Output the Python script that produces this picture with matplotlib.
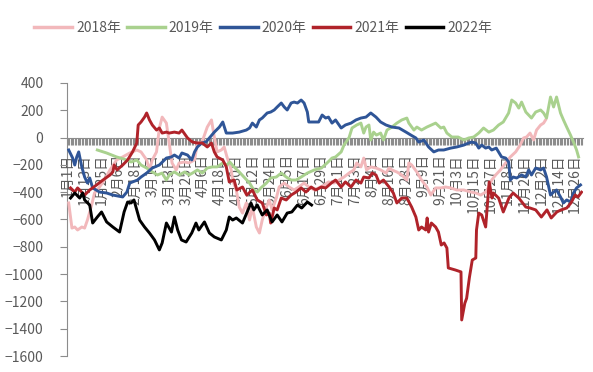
import matplotlib
matplotlib.use("Agg")
import matplotlib.pyplot as plt
from matplotlib.ticker import FixedLocator, MultipleLocator

plt.rcParams['font.family'] = ['Noto Sans CJK SC', 'DejaVu Sans']
plt.rcParams['axes.unicode_minus'] = True

# ---- data (x = day of year, 0 = 1月1日) ----
series_names = ["2018年", "2019年", "2020年", "2021年", "2022年"]
colors = ["#F2B8BB", "#A9D18E", "#2F5597", "#B0232A", "#000000"]

d2018 = [0.7, 3, 5, 7, 10, 12, 14, 17, 19, 22.6, 26, 30, 34.7, 39, 44, 49, 52, 56, 58, 60, 63, 65, 67, 70, 72, 74, 77, 79, 83, 86, 90, 92, 95, 97, 99, 102, 104, 106, 109, 111, 113, 116, 117, 119.6, 121.7, 124, 126.7, 129, 131, 133.8, 136, 138, 141, 143, 145, 148, 150, 153.6, 157, 160.6, 164, 167.7, 171, 175, 178, 182, 185, 189, 192.5, 196, 199.6, 203, 205, 208, 210, 212, 215, 218.7, 222, 225.8, 228, 230, 233.5, 237, 240.6, 242, 244, 247.7, 251, 254.8, 257.6, 261, 264.7, 268, 271.8, 276, 281, 286, 289.5, 293, 296.5, 298.7, 300.8, 303.6, 307, 310.7, 314, 317.8, 321, 323.4, 325.5, 328, 330.5, 332.6, 335.5, 337.6, 339]
v2018 = [-479, -663, -655, -677, -655, -663, -604, -494, -406, -362, -311, -237, -164, -142, -113, -91, -105, -164, -237, -164, -105, 70, 150, 106, -40, -186, -237, -186, -179, -186, -164, -40, -40, 18, 77, 129, 4, -105, -91, -69, -142, -237, -311, -384, -509, -553, -479, -604, -509, -655, -699, -604, -509, -457, -530, -443, -362, -333, -362, -384, -362, -333, -362, -384, -369, -347, -325, -333, -311, -289, -260, -237, -186, -215, -150, -237, -215, -223, -237, -260, -223, -237, -252, -274, -311, -186, -201, -252, -311, -362, -421, -369, -369, -362, -369, -384, -384, -399, -406, -421, -399, -362, -311, -274, -237, -186, -142, -105, -55, -3, 4, 33, -18, 55, 92, 106, 129]

d2019 = [21, 27.6, 34.7, 42, 45, 49, 52, 56, 60, 63.7, 67, 70, 72, 75.7, 79, 83, 86, 88.5, 92, 95.5, 99, 102.6, 106, 110, 113, 115, 118, 121.7, 125, 129, 132, 134.5, 137, 141, 144, 148, 151.5, 155, 158.5, 162, 165.6, 170, 175, 180, 184, 187.5, 190, 194, 196, 199.6, 201.7, 205, 208, 210, 211.6, 213.7, 215, 217, 219, 222, 224, 226.5, 230, 233.5, 237, 240.6, 242, 245.6, 247.7, 251, 254.8, 258, 261, 264.7, 266.8, 269, 272.5, 277, 281, 284.5, 288, 291.6, 295, 298.7, 302, 305.7, 309, 312.8, 315, 317.8, 320, 322, 325, 327, 329, 332, 335.5, 337.6, 339.7, 342.5, 344.7, 346.8, 349.6, 351.7, 354, 356.7, 358.8, 361, 362.4]
v2019 = [-91, -113, -142, -164, -179, -164, -201, -223, -252, -274, -260, -311, -274, -252, -274, -252, -274, -260, -237, -260, -223, -215, -215, -186, -201, -179, -215, -252, -289, -333, -384, -399, -369, -333, -296, -289, -260, -289, -311, -311, -289, -260, -237, -223, -186, -150, -142, -105, -55, 0, 70, 92, 106, 33, 77, 92, -18, 40, 18, 33, -18, 55, 77, 106, 129, 143, 106, 55, 77, 55, 77, 92, 106, 70, 77, 33, 4, 4, -18, -3, 4, 33, 70, 40, 55, 92, 114, 180, 275, 253, 216, 260, 187, 165, 143, 187, 202, 180, 143, 297, 224, 297, 180, 129, 77, 18, -33, -91, -142]

d2020 = [0.7, 3.5, 5, 6.4, 7.8, 10, 12, 14, 15.6, 17.7, 22.6, 27.6, 32, 39, 42, 44, 46, 49.5, 52, 56, 60, 65, 70, 73.6, 75.7, 79, 81, 85, 88, 90, 92, 95, 98, 100.5, 104, 107.6, 110, 112.5, 117, 121.7, 126.7, 129, 131, 133.8, 136, 138, 141.5, 144, 146.5, 148.6, 151.5, 153.6, 155.7, 158.5, 160.6, 163, 165.6, 167.7, 170, 171, 175, 178, 180.5, 183, 185, 187.5, 190, 194, 197, 201, 204.5, 208, 211.6, 215, 218.7, 222, 225.8, 230, 235, 240, 243.5, 247, 249, 252.7, 256, 259.7, 263, 266.8, 271.8, 276, 281, 284.5, 286.6, 289.5, 291.6, 293.7, 296.5, 298.7, 300.8, 304, 307.8, 310.7, 312.8, 314, 316, 318.5, 322, 325, 327, 329, 332, 335.5, 337.6, 339.7, 342.5, 344.7, 346.8, 349.6, 351.7, 354, 356.7, 358.8, 361, 363.8]
v2020 = [-91, -150, -201, -142, -105, -215, -289, -333, -296, -369, -399, -406, -421, -435, -399, -333, -325, -311, -289, -260, -223, -201, -150, -142, -128, -150, -113, -128, -164, -105, -69, -40, -33, -3, 40, 77, 114, 33, 33, 40, 55, 70, 106, 77, 129, 143, 180, 187, 202, 224, 253, 224, 202, 253, 260, 253, 275, 253, 187, 114, 114, 114, 165, 143, 150, 106, 129, 70, 92, 106, 129, 143, 150, 180, 150, 114, 92, 77, 70, 40, 18, -3, -33, -18, -69, -105, -91, -91, -77, -69, -55, -40, -33, -40, -77, -55, -77, -69, -91, -77, -142, -150, -179, -311, -289, -296, -274, -289, -237, -274, -223, -237, -223, -289, -421, -399, -384, -435, -479, -457, -472, -406, -369, -347]

d2021 = [2, 5, 7, 12, 15.6, 20.5, 25, 30, 32, 33, 35, 39, 42.5, 46, 49, 50, 52, 54.5, 56, 58, 60, 63, 65, 67, 70, 72, 75.7, 79, 81, 85, 88.5, 92, 95.5, 99, 102, 104, 106, 110, 112.5, 114.6, 118, 120, 124, 127, 131, 134.5, 138, 141, 143, 144, 146.5, 148.6, 151.5, 155, 158.5, 162, 165.6, 169, 172.7, 176, 180, 183, 187, 190, 194, 197, 201, 204.5, 208, 210, 213.7, 216, 218.7, 221, 224, 228, 231, 233.5, 237, 240.6, 244, 247, 249, 251, 254, 255, 256, 258, 261, 263, 265, 267, 269, 270, 275, 279, 279.5, 281.7, 283, 285, 287, 289.5, 290, 291.6, 293.7, 296.5, 298, 299, 301, 302, 305.7, 309, 313, 316, 320, 325, 328, 332, 336, 340, 343, 347, 350, 354, 357, 360, 362, 364.5]
v2021 = [-369, -399, -369, -421, -384, -347, -311, -274, -252, -201, -237, -201, -164, -105, -40, 92, 114, 150, 180, 129, 92, 55, 70, 33, 40, 33, 40, 33, 55, -3, -33, -40, -40, -69, -40, -105, -142, -164, -215, -325, -311, -384, -362, -421, -384, -457, -479, -567, -553, -626, -516, -530, -443, -457, -421, -399, -369, -399, -362, -384, -362, -369, -333, -311, -362, -325, -362, -311, -333, -289, -296, -260, -274, -333, -311, -362, -406, -479, -443, -443, -509, -582, -677, -655, -677, -589, -692, -626, -655, -692, -787, -772, -809, -955, -970, -984, -1336, -1214, -1177, -1023, -897, -882, -677, -553, -567, -655, -457, -325, -443, -406, -443, -545, -443, -406, -443, -509, -516, -530, -582, -530, -589, -545, -530, -516, -479, -421, -435, -400]

d2022 = [2, 5, 8.5, 10.6, 12, 15.6, 17.7, 21, 24, 27.6, 32, 36.8, 40, 42.5, 45, 47, 51, 54.5, 58, 61.6, 65, 67, 70, 73.6, 75.7, 78, 80.7, 84, 88, 91, 93, 97, 100.5, 104, 109, 112.5, 114.6, 117, 119.6, 124, 127, 130, 132, 134.5, 138, 141.5, 145, 148.6, 152, 155.7, 159, 163, 166, 170, 173]
v2022 = [-443, -406, -443, -406, -457, -494, -626, -582, -545, -618, -655, -692, -545, -472, -479, -457, -604, -655, -699, -750, -823, -772, -626, -692, -582, -677, -750, -765, -699, -626, -677, -618, -699, -728, -750, -677, -582, -604, -589, -626, -553, -479, -530, -494, -567, -530, -618, -567, -618, -553, -545, -494, -516, -472, -494]

xs = [d2018, d2019, d2020, d2021, d2022]
ys = [v2018, v2019, v2020, v2021, v2022]

tick_days = [0, 12, 24, 36, 48, 60, 72, 84, 96, 108, 120, 132, 144, 156, 168, 180, 192,
             204, 216, 228, 240, 252, 264, 276, 288, 300, 312, 324, 336, 348, 360]
tick_labels = ["1月1日", "1月13日", "1月25日", "2月6日", "2月18日", "3月1日", "3月13日", "3月25日",
               "4月6日", "4月18日", "4月30日", "5月12日", "5月24日", "6月5日", "6月17日", "6月29日",
               "7月11日", "7月23日", "8月4日", "8月16日", "8月28日", "9月9日", "9月21日", "10月3日",
               "10月15日", "10月27日", "11月8日", "11月20日", "12月2日", "12月14日", "12月26日"]

# ---- figure ----
fig = plt.figure(figsize=(5.93, 3.72), dpi=100)
ax = fig.add_axes([0.113, 0.043, 0.870, 0.734])

for name, c, x, y in zip(series_names, colors, xs, ys):
    ax.plot(x, y, color=c, lw=2.1, label=name, zorder=3, solid_joinstyle='round')

grey = "#595959"
axis_grey = "#8C8C8C"
ax.set_xlim(-0.5, 365.5)
ax.set_ylim(-1600, 400)
ax.yaxis.set_major_locator(MultipleLocator(200))

for s in ["top", "right"]:
    ax.spines[s].set_visible(False)
ax.spines["bottom"].set_position(("data", 0))
ax.spines["bottom"].set_color(axis_grey)
ax.spines["left"].set_color(axis_grey)
ax.spines["bottom"].set_zorder(1)
ax.spines["left"].set_zorder(1)

ax.xaxis.set_major_locator(FixedLocator(tick_days))
ax.set_xticklabels(tick_labels, rotation=90)
ax.xaxis.set_minor_locator(MultipleLocator(1))
ax.tick_params(axis="x", which="both", direction="out", length=5, width=0.8,
               color=axis_grey, labelcolor=grey, labelsize=10, pad=7)
ax.tick_params(axis="y", direction="out", length=5, width=0.8, color=axis_grey,
               labelcolor=grey, labelsize=10, pad=12)
ax.xaxis.set_zorder(1)
ax.yaxis.set_zorder(1)

leg = fig.legend(loc="center", bbox_to_anchor=(0.444, 0.925), ncol=5, frameon=False,
                 fontsize=10, handlelength=2.7, handletextpad=0.3, columnspacing=0.45,
                 labelcolor=grey)
for h in leg.get_lines():
    h.set_linewidth(2.5)

fig.savefig("out.png", dpi=100)
